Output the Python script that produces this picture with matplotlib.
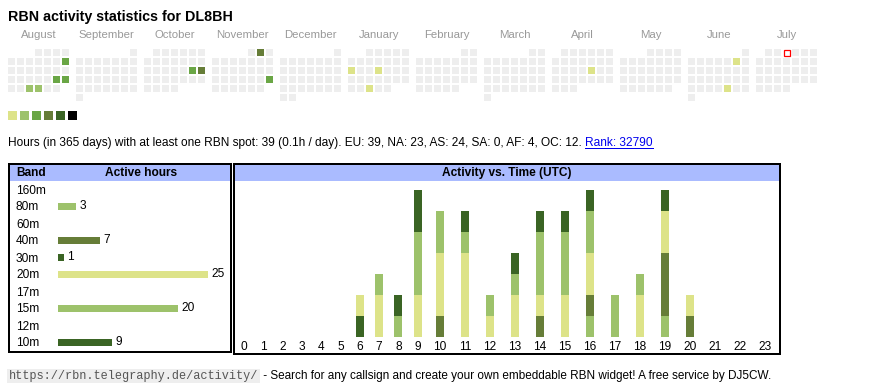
import calendar
import datetime as dt
import numpy as np
import matplotlib
matplotlib.use("Agg")
import matplotlib.pyplot as plt
from matplotlib.patches import Rectangle

plt.rcParams['font.family'] = ['Liberation Sans', 'DejaVu Sans']

W, H = 870, 390

# --- calendar data ---
months = [(2024, 8), (2024, 9), (2024, 10), (2024, 11), (2024, 12), (2025, 1),
          (2025, 2), (2025, 3), (2025, 4), (2025, 5), (2025, 6), (2025, 7)]
month_names = ['August', 'September', 'October', 'November', 'December', 'January',
               'February', 'March', 'April', 'May', 'June', 'July']
active_days = ['2024-08-11', '2024-08-24', '2024-08-25', '2024-08-28', '2024-08-29',
               '2024-10-19', '2024-10-20', '2024-11-02', '2024-11-24',
               '2025-01-13', '2025-01-16', '2025-01-29', '2025-04-18',
               '2025-06-07', '2025-06-27']
active_levels = [3, 3, 3, 2, 2, 3, 4, 4, 3, 1, 1, 1, 1, 1, 1]
today = '2025-07-03'
level_colors = ['#dde389', '#9dc26b', '#6aa645', '#667d38', '#3a6424', '#000000']

# --- band table ---
bands = ['160m', '80m', '60m', '40m', '30m', '20m', '17m', '15m', '12m', '10m']
band_hours = [0, 3, 0, 7, 1, 25, 0, 20, 0, 9]
band_colors = ['#6aa645', '#9dc26b', '#6aa645', '#667d38', '#3a6424',
               '#dde389', '#6aa645', '#9dc26b', '#6aa645', '#3a6424']

# --- activity vs time (hours per band per UTC hour), stacked bottom->top ---
hours = list(range(24))
h_80m = [0, 0, 0, 0, 0, 0, 0, 0, 1, 0, 0, 0, 0, 0, 0, 0, 1, 0, 0, 1, 0, 0, 0, 0]
h_40m = [0, 0, 0, 0, 0, 0, 0, 0, 0, 0, 1, 0, 0, 0, 1, 0, 1, 0, 0, 3, 1, 0, 0, 0]
h_30m = [0, 0, 0, 0, 0, 0, 1, 0, 0, 0, 0, 0, 0, 0, 0, 0, 0, 0, 0, 0, 0, 0, 0, 0]
h_20m = [0, 0, 0, 0, 0, 0, 1, 2, 0, 2, 3, 4, 1, 2, 1, 2, 2, 0, 2, 2, 1, 0, 0, 0]
h_15m = [0, 0, 0, 0, 0, 0, 0, 1, 0, 3, 2, 1, 1, 1, 3, 3, 2, 2, 1, 0, 0, 0, 0, 0]
h_10m = [0, 0, 0, 0, 0, 0, 0, 0, 1, 2, 0, 1, 0, 1, 1, 1, 1, 0, 0, 1, 0, 0, 0, 0]
stack = [(h_80m, '#9dc26b'), (h_40m, '#667d38'), (h_30m, '#3a6424'),
         (h_20m, '#dde389'), (h_15m, '#9dc26b'), (h_10m, '#3a6424')]


def px_rect(x0, y0, x1, y1):
    return [x0 / W, 1 - y1 / H, (x1 - x0) / W, (y1 - y0) / H]


fig = plt.figure(figsize=(W / 100, H / 100), dpi=100)
ax = fig.add_axes([0, 0, 1, 1])
ax.set_xlim(0, W)
ax.set_ylim(H, 0)
ax.axis('off')

ax.text(8, 20.5, 'RBN activity statistics for DL8BH', fontsize=10.3, fontweight='bold',
        va='baseline')

# calendar heatmap
levels = dict(zip(active_days, active_levels))
for k, (yr, mo) in enumerate(months):
    bx = 8.3 + 68 * k
    first_wd, ndays = calendar.monthrange(yr, mo)
    ax.text(bx + 30.4, 37.8, month_names[k], ha='center', va='baseline',
            fontsize=8.2, color='#999999')
    for d in range(1, ndays + 1):
        pos = first_wd + d - 1
        key = dt.date(yr, mo, d).isoformat()
        fc = level_colors[levels[key] - 1] if key in levels else '#eeeeee'
        x, y = bx + (pos % 7) * 9, 49.3 + (pos // 7) * 9
        if key == today:
            ax.add_patch(Rectangle((x + 0.4, y + 0.4), 6, 6, fc='white', ec='red', lw=0.9))
        else:
            ax.add_patch(Rectangle((x, y), 6.8, 6.8, fc=fc, ec='none'))

for i, c in enumerate(level_colors):
    ax.add_patch(Rectangle((8.3 + 12 * i, 111), 9, 9, fc=c, ec='none'))

t = ax.text(8, 146, 'Hours (in 365 days) with at least one RBN spot: 39 (0.1h / day). '
            'EU: 39, NA: 23, AS: 24, SA: 0, AF: 4, OC: 12.', fontsize=8.6, va='baseline')
rank = ax.annotate('Rank: 32790', xy=(1, 0), xycoords=t, xytext=(2.4, 0),
                   textcoords='offset points', va='bottom', fontsize=8.6, color='#0000ee')

# table / chart frames
ax.add_patch(Rectangle((10, 165.3), 220.7, 15.4, fc='#aabbff', ec='none'))
ax.add_patch(Rectangle((235.3, 165.3), 543.4, 15.4, fc='#aabbff', ec='none'))
ax.add_patch(Rectangle((9.2, 164.3), 222.3, 187.2, fill=False, ec='black', lw=1.44))
ax.add_patch(Rectangle((234.3, 164.3), 545.4, 189.5, fill=False, ec='black', lw=1.44))
ax.text(16.5, 173.2, 'Band', fontsize=8.6, fontweight='bold', va='center')
ax.text(141.5, 173.2, 'Active hours', fontsize=8.6, fontweight='bold', va='center', ha='center')
ax.text(507, 173.2, 'Activity vs. Time (UTC)', fontsize=8.6, fontweight='bold',
        va='center', ha='center')

u = ax.text(8.8, 379, 'https://rbn.telegraphy.de/activity/', family='Liberation Mono',
            fontsize=8.55, color='#555555', va='baseline',
            bbox=dict(boxstyle='square,pad=0.12', fc='#eeeeee', ec='none'))
ax.annotate(' - Search for any callsign and create your own embeddable RBN widget! '
            'A free service by DJ5CW.', xy=(1, 0), xycoords=u, xytext=(1.5, 0),
            textcoords='offset points', va='bottom', fontsize=8.5)

# band bars
ax1 = fig.add_axes(px_rect(58, 180.5, 228, 350.5))
ax1.patch.set_visible(False)
ax1.set_xlim(0, 170 / 6)
ax1.set_ylim(9.5, -0.5)
ax1.barh(range(len(bands)), band_hours, height=7 / 17, color=band_colors, linewidth=0)
ax1.set_yticks(range(len(bands)), bands)
ax1.tick_params(axis='y', length=0, pad=(58 - 16) * 0.72, labelsize=8.6)
for lbl in ax1.get_yticklabels():
    lbl.set_ha('left')
ax1.set_xticks([])
for s in ax1.spines.values():
    s.set_visible(False)
for i, v in enumerate(band_hours):
    if v:
        ax1.annotate(str(v), (v, i), xytext=(2.5, 0), textcoords='offset points',
                     va='center', fontsize=8.6)

# activity vs time
col_w = [19.3 if h < 10 else 25.0 for h in hours]
centers = []
x = 244.0
for i, w in enumerate(col_w):
    if i:
        x += (col_w[i - 1] + w) / 2
    centers.append(x)

ax2 = fig.add_axes(px_rect(236, 181, 778, 337))
ax2.patch.set_visible(False)
ax2.set_xlim(236, 778)
ax2.set_ylim(0, (337 - 181) / 21)
bottom = np.zeros(len(hours))
for vals, col in stack:
    ax2.bar(centers, vals, width=8, bottom=bottom, color=col, linewidth=0)
    bottom += np.array(vals)
ax2.set_xticks(centers, [str(h) for h in hours])
ax2.tick_params(axis='x', length=0, pad=3, labelsize=8.6)
ax2.set_yticks([])
for s in ax2.spines.values():
    s.set_visible(False)

fig.canvas.draw()
bb = rank.get_window_extent().transformed(ax.transData.inverted())
ax.plot([bb.x0, bb.x1], [147.6, 147.6], color='#0000ee', lw=0.72)

fig.savefig('out.png', dpi=100)
